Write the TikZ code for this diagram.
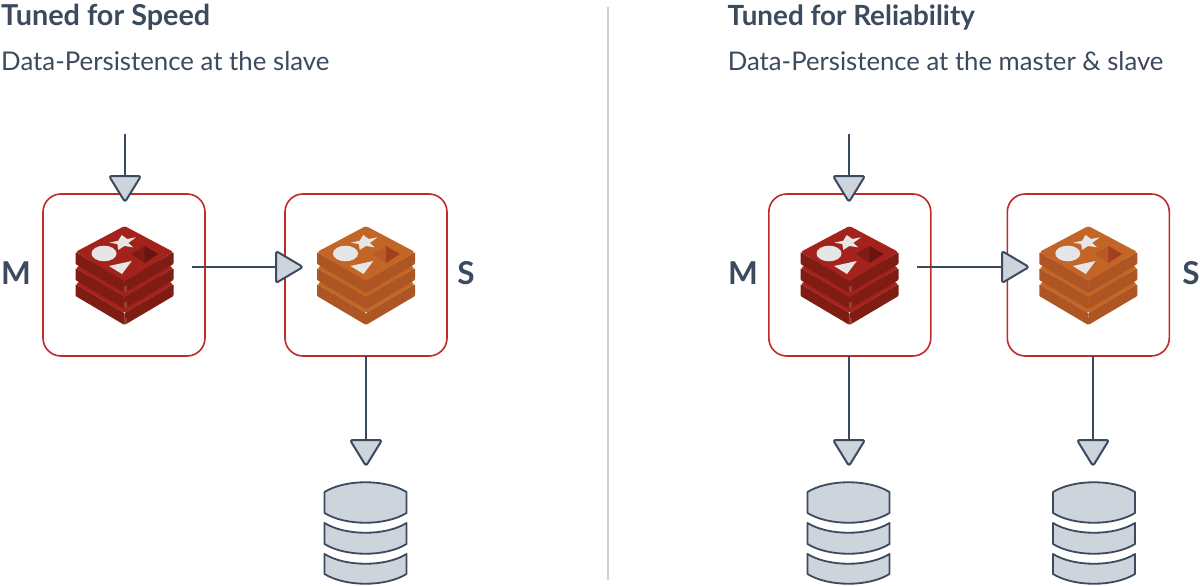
\documentclass[tikz,border=0pt]{standalone}
\usepackage{fontspec}
\setmainfont{Lato}
\definecolor{ink}{HTML}{3C4A5E}
\definecolor{steel}{HTML}{CDD4DC}
\definecolor{boxred}{HTML}{C02A2A}
\definecolor{sep}{HTML}{CFD2D5}
\definecolor{rtop}{HTML}{A3231C}
\definecolor{rside}{HTML}{7F1C14}
\definecolor{rdark}{HTML}{681410}
\definecolor{rdark2}{HTML}{7F1B15}
\definecolor{rseam}{HTML}{96402A}
\definecolor{otop}{HTML}{C26527}
\definecolor{oside}{HTML}{AD5623}
\definecolor{odark}{HTML}{A33E1E}
\definecolor{odark2}{HTML}{B85A25}
\definecolor{shapew}{HTML}{E6E6E6}
\tikzset{
 x=1pt,y=-1pt,
 title/.style={anchor=base west,inner sep=0pt,text=ink,font=\fontsize{28.8}{30}\selectfont\bfseries},
 titleb/.style={title,font=\fontsize{27.8}{30}\selectfont\bfseries},
 sub/.style={anchor=base west,inner sep=0pt,text=ink,font=\fontsize{25.8}{30}\selectfont},
 subb/.style={sub,font=\fontsize{25.7}{30}\selectfont},
 role/.style={anchor=base,inner sep=0pt,text=ink,font=\fontsize{31.5}{32}\selectfont\bfseries},
 boxnode/.style={draw=boxred,line width=1.6pt,rounded corners=18pt,minimum size=162pt,inner sep=0pt,fill=none},
 conn/.style={draw=ink,line width=2pt},
 head/.style={draw=ink,fill=steel,line width=2pt,rounded corners=2.5pt,line join=round},
 disk/.style={draw=ink,fill=steel,line width=1.8pt,line join=round},
}
\newcommand{\logo}[7]{%
 \begin{scope}[shift={(#1,#2)}]
  \foreach \d in {32,16,0}{
   \fill[#3,rounded corners=1pt] (-49,26+\d) -- (0,55+\d) -- (0,67+\d) -- (-49,38+\d) -- cycle;
   \fill[#3,rounded corners=1pt] (49,26+\d) -- (0,55+\d) -- (0,67+\d) -- (49,38+\d) -- cycle;
   \fill[#7] (-1,60+\d) rectangle (2,66+\d);
   \fill[#4,rounded corners=2.5pt] (0,0+\d) -- (49,26+\d) -- (0,55+\d) -- (-49,26+\d) -- cycle;
  }
  \fill[shapew] (-20.5,27.5) ellipse[x radius=12.5pt,y radius=7.8pt];
  \fill[shapew] (-2.8,9) -- (2.8,13) -- (11.5,11.3) -- (3.8,17) -- (8.8,21.3) -- (-0.2,20) -- (-6.2,24) -- (-7.2,18) -- (-15.2,16.7) -- (-6.2,14.7) -- cycle;
  \fill[shapew] (7.2,35) -- (-15.5,40) -- (-2.5,48) -- cycle;
  \fill[#5] (6.7,28) -- (20,20) -- (33.7,28) -- (20,37) -- cycle;
  \fill[#6] (20,20) -- (33.7,28) -- (20,37) -- cycle;
 \end{scope}}
\newcommand{\dbstack}[2]{%
 \begin{scope}[shift={(#1,#2)}]
  \path[disk] (-41,10) .. controls (-20,-3) and (20,-3) .. (41,10) -- (41,31) .. controls (20,44) and (-20,44) .. (-41,31) -- cycle;
  \path[disk] (-41,41) .. controls (-20,54) and (20,54) .. (41,41) -- (41,62) .. controls (20,75) and (-20,75) .. (-41,62) -- cycle;
  \path[disk] (-41,72) .. controls (-20,85) and (20,85) .. (41,72) -- (41,92) .. controls (20,105) and (-20,105) .. (-41,92) -- cycle;
 \end{scope}}
\newcommand{\headdown}[2]{\path[head] (#1-16,#2) -- (#1+16,#2) -- (#1,#2+26) -- cycle;}
\newcommand{\headright}[2]{\path[head] (#1,#2-16) -- (#1+27,#2) -- (#1,#2+16) -- cycle;}
\begin{document}
\begin{tikzpicture}
\useasboundingbox (0,0) rectangle (1200,586);
\fill[white] (0,0) rectangle (1200,586);
\node[title] (t1) at (1,25.5) {Tuned for Speed};
\node[sub] (s1) at (1,70.5) {Data-Persistence at the slave};
\node[titleb] (t2) at (727.5,25.5) {Tuned for Reliability};
\node[subb] (s2) at (727.7,70.5) {Data-Persistence at the master \& slave};
\coordinate (sa) at (607.5,7); \coordinate (sb) at (607.5,580);
\draw[sep,line width=2pt] (sa) -- (sb);

\node[boxnode] (m1) at (124,275) {};
\node[boxnode] (s1b) at (366,275) {};
\node[boxnode] (m2) at (849.8,275) {};
\node[boxnode] (s2b) at (1088.3,275) {};

\logo{124.5}{226}{rside}{rtop}{rdark2}{rdark}{rseam}
\logo{366}{226}{oside}{otop}{odark2}{odark}{oside}
\logo{849.5}{226}{rside}{rtop}{rdark2}{rdark}{rseam}
\logo{1088.3}{226}{oside}{otop}{odark2}{odark}{oside}

\node[role] (lm1) at (16,284) {M};
\node[role] (ls1) at (466,284) {S};
\node[role] (lm2) at (743,284) {M};
\node[role] (ls2) at (1191,284) {S};

\coordinate (in1) at (125,134); \coordinate (hd1) at (125,176);
\coordinate (in2) at (849,134); \coordinate (hd2) at (849,176);
\draw[conn] (in1) -- (hd1);
\draw[conn] (in2) -- (hd2);
\coordinate (o1) at (192,267); \coordinate (hr1) at (276,267);
\coordinate (o2) at (917,267); \coordinate (hr2) at (1002,267);
\draw[conn] (o1) -- (hr1);
\draw[conn] (o2) -- (hr2);
\coordinate (d1) at (366,356); \coordinate (e1) at (366,440);
\coordinate (d2) at (849,356); \coordinate (e2) at (849,440);
\coordinate (d3) at (1093,356); \coordinate (e3) at (1093,440);
\draw[conn] (d1) -- (e1);
\draw[conn] (d2) -- (e2);
\draw[conn] (d3) -- (e3);

\headdown{125}{176}
\headdown{849}{176}
\headright{276}{267}
\headright{1002}{267}
\headdown{366}{440}
\headdown{849}{440}
\headdown{1093}{440}

\dbstack{365.5}{482}
\dbstack{848.5}{482}
\dbstack{1094}{482}
\end{tikzpicture}
\end{document}
